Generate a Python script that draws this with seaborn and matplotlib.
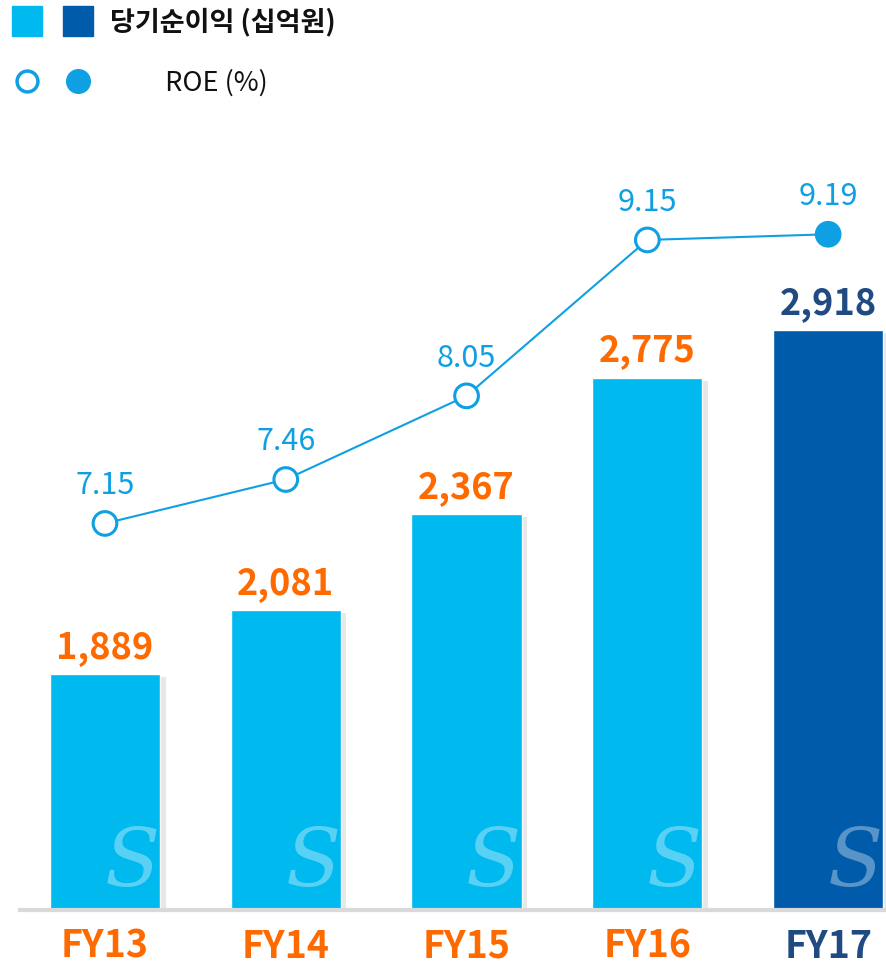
import matplotlib
matplotlib.use("Agg")
import matplotlib.pyplot as plt
import matplotlib.patheffects as pe
import matplotlib.transforms as mtransforms
from matplotlib.lines import Line2D
from matplotlib.legend_handler import HandlerTuple
import pandas as pd
import seaborn as sns

years = ["FY13", "FY14", "FY15", "FY16", "FY17"]
net_income = [1889, 2081, 2367, 2775, 2918]  # 십억원
roe = [7.15, 7.46, 8.05, 9.15, 9.19]

sky = "#00B9EF"
navy_bar = "#005BAA"
orange = "#FF6A00"
navy_text = "#1F4A82"
roe_blue = "#0FA0E3"

sns.set_theme(style="white")
plt.rcParams["font.family"] = ["Noto Sans CJK KR", "DejaVu Sans"]

df = pd.DataFrame({"year": years, "income": net_income, "roe": roe})
df["pos"] = range(len(df))
df["latest"] = df["year"] == years[-1]

bar_colors = {y: (navy_bar if y == years[-1] else sky) for y in years}
label_colors = [navy_text if y == years[-1] else orange for y in years]

fig = plt.figure(figsize=(8.86, 9.68), dpi=100)
ax = fig.add_axes([20 / 886, 58 / 968, 866 / 886, 770 / 968])

sns.barplot(data=df, x="year", y="income", hue="year", palette=bar_colors,
            width=0.61, legend=False, saturation=1, ax=ax)
shadow = [pe.SimplePatchShadow(offset=(4, -2), shadow_rgbFace="#888888", alpha=0.2), pe.Normal()]
for bar in ax.patches:
    bar.set_path_effects(shadow)

# value labels above bars
for cont, col in zip(ax.containers, label_colors):
    ax.bar_label(cont, fmt="{:,.0f}", padding=6, fontsize=26,
                 fontweight="bold", color=col)

# faint logo-ish watermark in each bar
blend = mtransforms.blended_transform_factory(ax.transData, ax.transAxes)
for i in df["pos"]:
    ax.text(i + 0.15, 0.01, "S", transform=blend, fontsize=58, fontstyle="italic",
            family="DejaVu Serif", color="white", alpha=0.35, ha="center", va="bottom")

ax.set_ylim(1184, 3486)

# ROE line on a second scale
ax2 = ax.twinx()
sns.lineplot(data=df, x="pos", y="roe", color=roe_blue, linewidth=1.5, ax=ax2)
sns.scatterplot(data=df, x="pos", y="roe", hue="latest",
                palette={False: "white", True: roe_blue}, edgecolor=roe_blue,
                linewidth=2.2, s=290, legend=False, ax=ax2, zorder=3)
ax2.collections[0].set_path_effects(
    [pe.SimplePatchShadow(offset=(3, -2), shadow_rgbFace="#777777", alpha=0.35), pe.Normal()])
for x, v in zip(df["pos"], df["roe"]):
    ax2.annotate(f"{v:.2f}", (x, v), xytext=(0, 16), textcoords="offset points",
                 ha="center", va="bottom", fontsize=22, color=roe_blue)
ax2.set_ylim(4.423, 9.855)
ax.set_xlim(-0.47, 4.32)

for a in (ax, ax2):
    a.set_ylabel("")
    a.set_xlabel("")
    a.set_yticks([])
    for s in a.spines.values():
        s.set_visible(False)
ax.spines["bottom"].set_visible(True)
ax.spines["bottom"].set_color("#D9D9D9")
ax.spines["bottom"].set_linewidth(3)

ax.tick_params(axis="x", length=0, pad=12, labelsize=27)
for t, c in zip(ax.get_xticklabels(), label_colors):
    t.set_color(c)
    t.set_fontweight("bold")

# legend
h_bar = (Line2D([], [], ls="", marker="s", ms=21, mfc=sky, mec=sky),
         Line2D([], [], ls="", marker="s", ms=21, mfc=navy_bar, mec=navy_bar))
h_roe = (Line2D([], [], ls="", marker="o", ms=15, mfc="white", mec=roe_blue, mew=2.5),
         Line2D([], [], ls="", marker="o", ms=17, mfc=roe_blue, mec=roe_blue))
leg = fig.legend([h_bar, h_roe], ["당기순이익 (십억원)", "         ROE (%)"],
                 handler_map={tuple: HandlerTuple(ndivide=None, pad=0.78)},
                 loc="upper left", bbox_to_anchor=(12 / 886, 1 - 8 / 968),
                 frameon=False, fontsize=19.5, handlelength=3.0, handletextpad=0.62,
                 labelspacing=1.2, borderpad=0, borderaxespad=0)
for t in leg.get_texts():
    t.set_color("#111111")
leg.get_texts()[0].set_fontweight("bold")

fig.savefig("out.png", dpi=100)
